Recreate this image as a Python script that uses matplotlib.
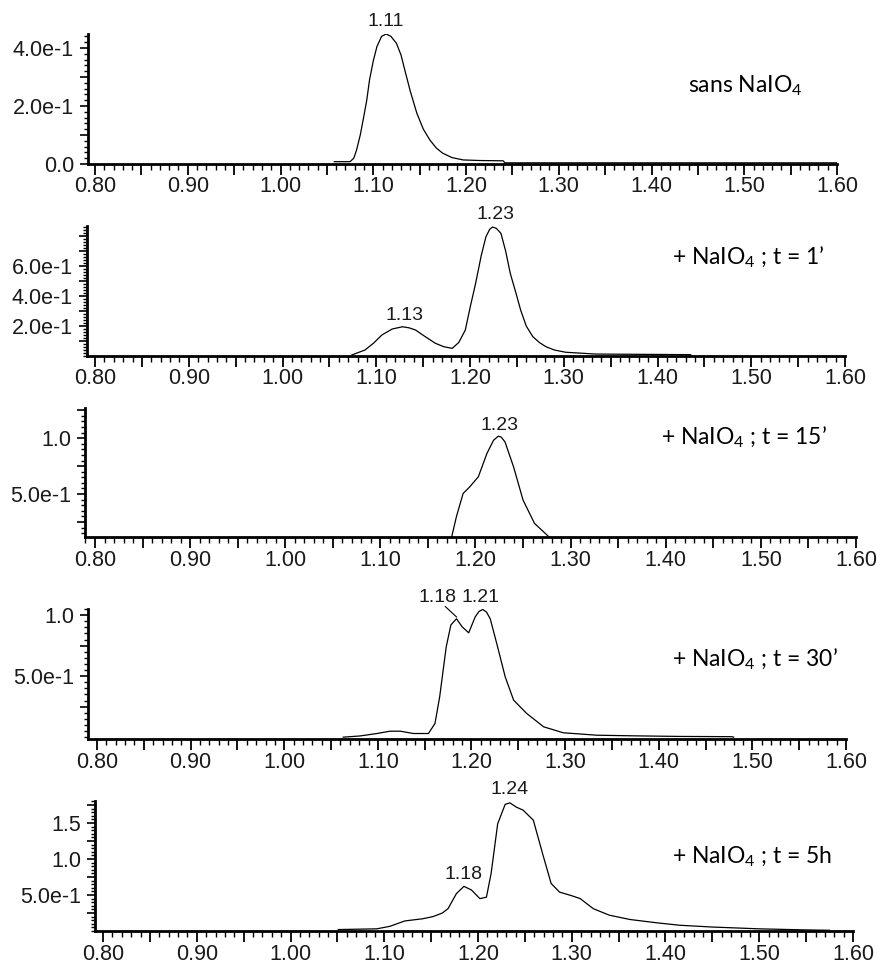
import matplotlib
matplotlib.use('Agg')
import matplotlib.pyplot as plt
from matplotlib.ticker import MultipleLocator
import numpy as np

plt.rcParams['font.family'] = ['Liberation Sans', 'DejaVu Sans']
plt.rcParams['mathtext.fontset'] = 'custom'
plt.rcParams['mathtext.rm'] = 'Lato'
plt.rcParams['mathtext.it'] = 'Lato'

# ---- data ----
p1_x = [1.058, 1.075, 1.079, 1.082, 1.086, 1.089, 1.093, 1.096, 1.100, 1.104, 1.109, 1.114,
        1.119, 1.125, 1.130, 1.134, 1.140, 1.147, 1.154, 1.161, 1.168, 1.175, 1.185, 1.197,
        1.215, 1.240, 1.242, 1.60]
p1_y = [0.008, 0.008, 0.02, 0.048, 0.10, 0.15, 0.22, 0.29, 0.355, 0.405, 0.44, 0.448,
        0.44, 0.416, 0.375, 0.324, 0.25, 0.175, 0.12, 0.083, 0.055, 0.037, 0.022, 0.014,
        0.012, 0.011, 0.004, 0.004]

p2_x = [1.074, 1.088, 1.097, 1.106, 1.117, 1.128, 1.135, 1.142, 1.152, 1.163, 1.172, 1.181,
        1.188, 1.195, 1.200, 1.206, 1.212, 1.217, 1.221, 1.224, 1.228, 1.233, 1.238, 1.243,
        1.249, 1.254, 1.260, 1.267, 1.274, 1.281, 1.290, 1.302, 1.334, 1.435, 1.437]
p2_y = [0.007, 0.04, 0.085, 0.14, 0.18, 0.195, 0.188, 0.173, 0.13, 0.085, 0.062, 0.051,
        0.09, 0.173, 0.32, 0.485, 0.67, 0.795, 0.845, 0.86, 0.852, 0.818, 0.70, 0.55,
        0.42, 0.307, 0.2, 0.129, 0.09, 0.062, 0.04, 0.025, 0.013, 0.009, 0.0]

p3_x = [1.170, 1.175, 1.180, 1.187, 1.194, 1.203, 1.212, 1.219, 1.224, 1.227, 1.231, 1.240,
        1.250, 1.262, 1.277, 1.285]
p3_y = [0.0, 0.119, 0.30, 0.506, 0.565, 0.655, 0.863, 0.982, 1.018, 1.01, 0.967, 0.744,
        0.446, 0.238, 0.119, 0.0]

p4_x = [1.063, 1.081, 1.099, 1.113, 1.124, 1.138, 1.154, 1.161, 1.166, 1.173, 1.178, 1.184,
        1.190, 1.197, 1.204, 1.208, 1.212, 1.216, 1.220, 1.227, 1.236, 1.245, 1.259, 1.277,
        1.298, 1.334, 1.373, 1.423, 1.478, 1.480]
p4_y = [0.0, 0.01, 0.03, 0.049, 0.049, 0.03, 0.03, 0.112, 0.33, 0.74, 0.92, 0.97,
        0.904, 0.855, 0.986, 1.03, 1.046, 1.025, 0.97, 0.766, 0.494, 0.303, 0.194, 0.085,
        0.036, 0.016, 0.011, 0.006, 0.004, 0.0]

p5_x = [1.051, 1.092, 1.106, 1.122, 1.141, 1.152, 1.162, 1.168, 1.177, 1.185, 1.193, 1.202,
        1.209, 1.214, 1.221, 1.229, 1.234, 1.241, 1.248, 1.259, 1.269, 1.278, 1.287, 1.300,
        1.309, 1.323, 1.340, 1.362, 1.390, 1.415, 1.45, 1.50, 1.55, 1.575]
p5_y = [0.02, 0.03, 0.065, 0.14, 0.17, 0.2, 0.25, 0.31, 0.52, 0.62, 0.57, 0.45,
        0.47, 0.80, 1.49, 1.76, 1.78, 1.72, 1.68, 1.54, 1.07, 0.66, 0.54, 0.49,
        0.45, 0.31, 0.22, 0.16, 0.115, 0.08, 0.055, 0.03, 0.015, 0.01]

conditions = ['sans NaIO$_4$', '+ NaIO$_4$ ; t = 1\u2019', '+ NaIO$_4$ ; t = 15\u2019',
              '+ NaIO$_4$ ; t = 30\u2019', '+ NaIO$_4$ ; t = 5h']

xticks = [0.80, 0.85, 0.90, 0.95, 1.00, 1.05, 1.10, 1.15, 1.20, 1.25, 1.30, 1.35,
          1.40, 1.45, 1.50, 1.55, 1.60]
xtick_labels = ['0.80', '', '0.90', '', '1.00', '', '1.10', '', '1.20', '', '1.30', '',
                '1.40', '', '1.50', '', '1.60']

yticks = [[0.0, 0.1, 0.2, 0.3, 0.4],
          [0.1, 0.2, 0.3, 0.4, 0.5, 0.6, 0.7, 0.8],
          [0.25, 0.5, 0.75, 1.0, 1.25],
          [0.25, 0.5, 0.75, 1.0],
          [0.25, 0.5, 0.75, 1.0, 1.25, 1.5, 1.75]]
ytick_labels = [['0.0', '', '2.0e-1', '', '4.0e-1'],
                ['', '2.0e-1', '', '4.0e-1', '', '6.0e-1', '', ''],
                ['', '5.0e-1', '', '1.0', ''],
                ['', '5.0e-1', '', '1.0'],
                ['', '5.0e-1', '', '1.0', '', '1.5', '']]
yminor = [0.02, 0.02, 0.05, 0.05, 0.05]
ylims = [(0.0, 0.448), (0.0, 0.867), (0.116, 1.27), (-0.015, 1.05), (0.0, 1.806)]

# peak labels: (text, x, y)
peaks = [[('1.11', 1.114, 0.49)],
         [('1.13', 1.130, 0.267), ('1.23', 1.227, 0.947)],
         [('1.23', 1.225, 1.116)],
         [('1.18', 1.164, 1.148), ('1.21', 1.210, 1.148)],
         [('1.18', 1.185, 0.78), ('1.24', 1.234, 1.96)]]

series = [(p1_x, p1_y), (p2_x, p2_y), (p3_x, p3_y), (p4_x, p4_y), (p5_x, p5_y)]

# axes boxes in pixels: left, right, baseline, top
W, H = 877, 965
boxes = [(88, 837, 164, 34), (87, 845, 356, 226), (85, 856, 537, 408),
         (88, 846, 739, 609), (95, 853, 931, 801)]
# where 0.80 sits in each panel (px)
x080 = [95, 95, 95, 97, 103]
cond_pos = [(745, 86), (748, 257), (744, 437), (755, 659), (752, 857)]

fig = plt.figure(figsize=(W / 100, H / 100), dpi=100)
txt = '#1a1a1a'

for i, (xs, ys) in enumerate(series):
    l, r, b, t = boxes[i]
    ax = fig.add_axes([l / W, 1 - b / H, (r - l) / W, (b - t) / H])
    ax.plot(xs, ys, color='black', lw=0.9)
    scale = (r - x080[i]) / 0.80
    ax.set_xlim(0.80 - (x080[i] - l) / scale, 1.60)
    ax.set_ylim(*ylims[i])

    for s in ['top', 'right']:
        ax.spines[s].set_visible(False)
    for s in ['left', 'bottom']:
        ax.spines[s].set_linewidth(2.0)

    ax.set_xticks(xticks)
    ax.set_xticklabels(xtick_labels)
    ax.xaxis.set_minor_locator(MultipleLocator(0.01))
    ax.set_yticks(yticks[i])
    ax.set_yticklabels(ytick_labels[i])
    ax.yaxis.set_minor_locator(MultipleLocator(yminor[i]))

    ax.tick_params(axis='x', which='major', length=8, width=1.3, pad=1, labelsize=15.5,
                   labelcolor=txt)
    ax.tick_params(axis='x', which='minor', length=4, width=1.0)
    ax.tick_params(axis='y', which='major', length=6, width=1.2, pad=4, labelsize=15.5,
                   labelcolor=txt)
    ax.tick_params(axis='y', which='minor', length=3, width=1.0)

    for label, px, py in peaks[i]:
        ax.text(px, py, label, ha='center', va='center', fontsize=14, color=txt,
                clip_on=False)

    cx, cy = cond_pos[i]
    fig.text(cx / W, 1 - cy / H, conditions[i], ha='center', va='center',
             fontsize=16.5, family='Lato', color='black')

# leader line from the 1.18 label to its peak (t = 30')
ax4 = fig.axes[3]
ax4.plot([1.172, 1.184], [1.07, 0.985], color='black', lw=0.8, clip_on=False)

fig.savefig('out.png', dpi=100)
plt.close()
